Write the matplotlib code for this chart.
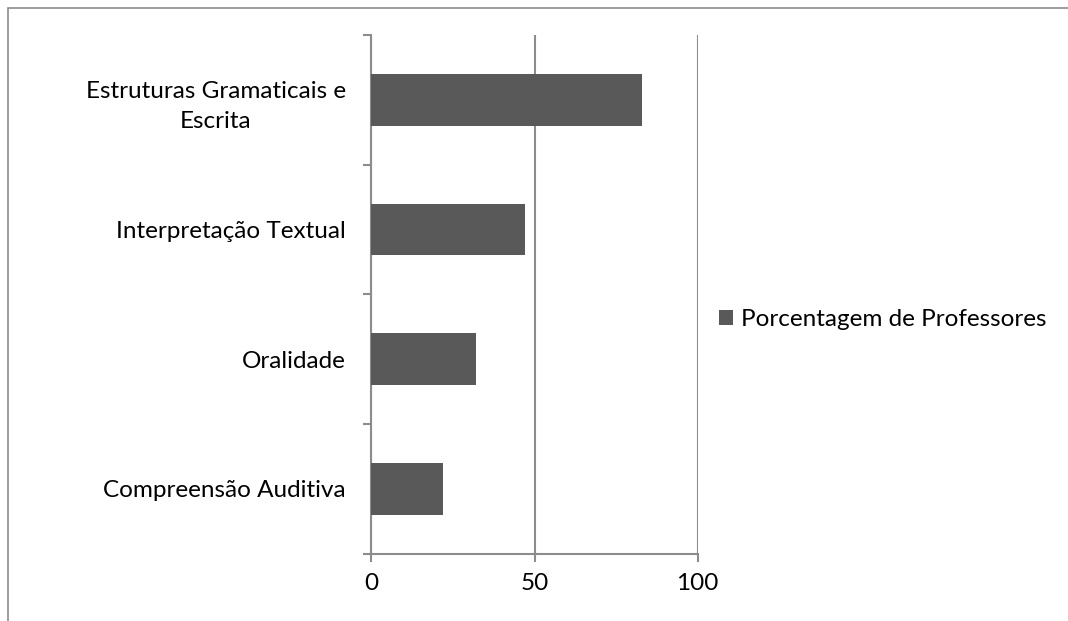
import matplotlib.pyplot as plt
from matplotlib.patches import Rectangle

plt.rcParams['font.family'] = ['Lato', 'DejaVu Sans']

# Habilidades (top to bottom) and share of teachers
categories = [
    "Estruturas Gramaticais e\nEscrita",
    "Interpretação Textual",
    "Oralidade",
    "Compreensão Auditiva",
]
percentages = [83, 47, 32, 22]
series_name = "Porcentagem de Professores"
x_ticks = [0, 50, 100]

bar_color = "#595959"
axis_color = "#8c8c8c"
fs = 17.5

fig = plt.figure(figsize=(10.68, 6.21), dpi=100)
ax = fig.add_axes([0.3477, 0.1084, 0.3056, 0.8352])

# bottom-most category first so the list reads top to bottom
ypos = list(range(len(categories)))[::-1]
ax.barh(ypos, percentages, height=0.4, color=bar_color, label=series_name,
        zorder=3)

ax.set_xlim(0, 100)
ax.set_ylim(-0.5, len(categories) - 0.5)
ax.set_xticks(x_ticks)
ax.set_xticklabels([str(t) for t in x_ticks])
ax.set_yticks(ypos)
ax.set_yticklabels(categories, multialignment="center", linespacing=1.55)
ax.set_yticks([i - 0.5 for i in range(len(categories) + 1)], minor=True)

ax.grid(True, axis="x", color=axis_color, linewidth=1.5, zorder=1)
for side in ("top", "right"):
    ax.spines[side].set_visible(False)
for side in ("left", "bottom"):
    ax.spines[side].set_color(axis_color)
    ax.spines[side].set_linewidth(1.5)

ax.tick_params(axis="y", which="major", length=0, pad=18.5, labelsize=fs)
ax.tick_params(axis="y", which="minor", length=5.5, width=1.5,
               color=axis_color, direction="out")
ax.tick_params(axis="x", which="major", length=6, width=1.5, color=axis_color,
               direction="out", pad=8, labelsize=fs)

ax.legend(loc="center left", bbox_to_anchor=(0.662, 0.485),
          bbox_transform=fig.transFigure, frameon=False, fontsize=fs,
          handlelength=0.55, handleheight=0.55, handletextpad=0.33,
          borderpad=0)

# outer chart frame
fig.add_artist(Rectangle((8 / 1068, -0.1), 1.2, 1 - 8 / 621 + 0.1,
                         transform=fig.transFigure, fill=False,
                         edgecolor=axis_color, linewidth=1.2))

fig.savefig("out.png", dpi=100)
